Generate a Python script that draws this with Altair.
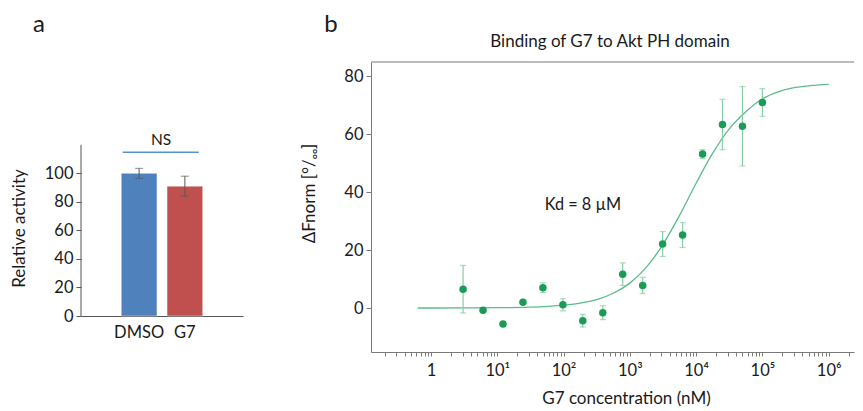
import altair as alt
import pandas as pd

# ---------------- data ----------------
groups = ["DMSO", "G7"]
activity = [100, 91]
activity_err = [3.5, 7.0]
bar_colors = ["#4f81bd", "#c0504d"]

conc = [3.05, 6.1, 12.2, 24.4, 48.8, 97.7, 195, 391, 781, 1563, 3125, 6250, 12500, 25000, 50000, 100000]
fnorm = [6.5, -0.8, -5.5, 2.0, 7.0, 1.1, -4.4, -1.6, 11.7, 7.8, 22.1, 25.2, 53.2, 63.4, 62.8, 71.0]
fnorm_err = [8.2, 0.5, 0.5, 0.6, 1.7, 2.1, 2.2, 2.4, 3.9, 2.8, 4.3, 4.3, 1.5, 8.7, 13.7, 4.8]

fit_conc = [0.63, 1, 3.16, 10, 31.6, 100, 178, 316, 562, 1000, 1778, 3162, 5623, 10000,
            17783, 31623, 56234, 100000, 177828, 316228, 562341, 1000000]
fit_fnorm = [0.0, 0.0, 0.03, 0.1, 0.3, 1.0, 1.7, 2.9, 5.1, 8.6, 14.1, 22.0, 32.0, 43.1,
             53.5, 61.9, 67.8, 72.3, 74.8, 76.2, 76.9, 77.3]

decade_ticks = [1, 10, 100, 1000, 10000, 100000, 1000000]
decade_labels = ["1", "10¹", "10²", "10³", "10⁴", "10⁵", "10⁶"]

FONT = "Lato"
TXT = "#1a1a1a"
AX = "#7a7a7a"
LBL = 16.5
TTL = 17

# ---------------- panel a ----------------
a_scale = alt.Scale(domain=[-25.2, 178.0], nice=False, zero=False)
xa = alt.X("group:N", sort=groups,
           scale=alt.Scale(domain=groups, paddingInner=0.22, paddingOuter=0.88),
           axis=alt.Axis(title=None, ticks=False, labelPadding=8, offset=-36, labelAngle=0,
                         domainColor="#555555", labelFontSize=LBL, labelColor=TXT))
ya = alt.Y("v:Q", scale=a_scale,
           axis=alt.Axis(values=[0, 20, 40, 60, 80, 100], domain=False, tickSize=5,
                         tickColor="#555555", labelPadding=3, labelFontSize=LBL, labelColor=TXT,
                         title="Relative activity", titleFontSize=TTL, titleFontWeight="normal",
                         titleColor=TXT, titleX=-62, titleY=166, titleAngle=270,
                         titleBaseline="middle", titleAlign="center"))

df_a = pd.DataFrame({
    "group": groups,
    "v": activity,
    "lo": [a - e for a, e in zip(activity, activity_err)],
    "hi": [a + e for a, e in zip(activity, activity_err)],
})

bars = alt.Chart(df_a).mark_bar(stroke="white", strokeOpacity=0.45, strokeWidth=1).encode(
    x=xa, y=ya, y2=alt.datum(0),
    color=alt.Color("group:N", scale=alt.Scale(domain=groups, range=bar_colors), legend=None))

a_axis_line = alt.Chart(pd.DataFrame({"v": [0], "hi": [120]})).mark_rule(color="#555555").encode(
    x=alt.value(0), y=ya, y2="hi:Q")

a_err = alt.Chart(df_a).mark_rule(color="#595959", strokeWidth=1).encode(x=xa, y=alt.Y("lo:Q", scale=a_scale), y2="hi:Q")
a_caps_lo = alt.Chart(df_a).mark_tick(color="#595959", size=8, thickness=1, orient="horizontal").encode(
    x=xa, y=alt.Y("lo:Q", scale=a_scale))
a_caps_hi = alt.Chart(df_a).mark_tick(color="#595959", size=8, thickness=1, orient="horizontal").encode(
    x=xa, y=alt.Y("hi:Q", scale=a_scale))

ns_df = pd.DataFrame({"s": ["DMSO"], "e": ["G7"], "v": [114.7]})
ns_line = alt.Chart(ns_df).mark_rule(color="#4f94d9", strokeWidth=1.5).encode(
    x=alt.X("s:N", sort=groups, bandPosition=0.04,
            scale=alt.Scale(domain=groups, paddingInner=0.22, paddingOuter=0.88)),
    x2=alt.X2("e", bandPosition=0.89),
    y=ya)

ns_text = alt.Chart(pd.DataFrame({"v": [123.5], "t": ["NS"]})).mark_text(
    fontSize=15.5, color=TXT, baseline="middle", align="center").encode(
    x=alt.value(80), y=ya, text="t:N")

a_label = alt.Chart(pd.DataFrame({"t": ["a"]})).mark_text(
    fontSize=24, color=TXT, baseline="middle", align="center").encode(
    x=alt.value(-42), y=alt.value(-37), text="t:N")

panel_a = alt.layer(bars, a_axis_line, a_err, a_caps_lo, a_caps_hi, ns_line, ns_text, a_label).properties(
    width=162, height=290)

# ---------------- panel b ----------------
minor_ticks = [m * 10.0 ** k for k in range(-1, 7) for m in range(1, 10)
               if 0.1244 <= m * 10.0 ** k <= 2.41e6]
label_expr = " : ".join(
    f"datum.value == {v} ? '{l}'" for v, l in zip(decade_ticks, decade_labels)) + " : ''"

xb_scale = alt.Scale(type="log", domain=[0.1244, 2.41e6], nice=False)
yb_scale = alt.Scale(domain=[-15.2, 85.0], nice=False, zero=False)

xb = alt.X("c:Q", scale=xb_scale,
           axis=alt.Axis(values=minor_ticks, labelExpr=label_expr, tickSize=4, tickColor=AX,
                         domainColor=AX, labelPadding=6, labelFontSize=LBL, labelColor=TXT,
                         labelFlush=False, labelOverlap=False,
                         title="G7 concentration (nM)", titleFontSize=TTL, titleFontWeight="normal",
                         titleColor=TXT, titleX=255, titleY=46, titleBaseline="middle",
                         titleAlign="center"))
yb = alt.Y("v:Q", scale=yb_scale,
           axis=alt.Axis(values=[0, 20, 40, 60, 80], tickSize=5, tickColor=AX, domainColor=AX,
                         labelPadding=3, labelFontSize=LBL, labelColor=TXT,
                         title="ΔFnorm [°/ₒₒ]", titleFontSize=TTL, titleFontWeight="normal",
                         titleColor=TXT, titleX=-62, titleY=131, titleAngle=270,
                         titleBaseline="middle", titleAlign="center"))

df_b = pd.DataFrame({
    "c": conc,
    "v": fnorm,
    "lo": [f - e for f, e in zip(fnorm, fnorm_err)],
    "hi": [f + e for f, e in zip(fnorm, fnorm_err)],
})
df_fit = pd.DataFrame({"c": fit_conc, "v": fit_fnorm})

GREEN = "#1b9b56"
LIGHT = "#86cfa6"
CURVE = "#5cbb8b"

curve = alt.Chart(df_fit).mark_line(color=CURVE, strokeWidth=1.3, interpolate="monotone").encode(x=xb, y=yb)
b_err = alt.Chart(df_b).mark_rule(color=LIGHT, strokeWidth=1.2).encode(
    x=xb, y=alt.Y("lo:Q", scale=yb_scale), y2="hi:Q")
b_caps_lo = alt.Chart(df_b).mark_tick(color=LIGHT, size=6, thickness=1.2, orient="horizontal").encode(
    x=xb, y=alt.Y("lo:Q", scale=yb_scale))
b_caps_hi = alt.Chart(df_b).mark_tick(color=LIGHT, size=6, thickness=1.2, orient="horizontal").encode(
    x=xb, y=alt.Y("hi:Q", scale=yb_scale))
points = alt.Chart(df_b).mark_circle(color=GREEN, size=56, opacity=1).encode(x=xb, y=yb)

top_line = alt.Chart(pd.DataFrame({"v": [85.0]})).mark_rule(color=AX, strokeWidth=1).encode(y=yb)

kd_text = alt.Chart(pd.DataFrame({"c": [196], "v": [35.5], "t": ["Kd = 8 µM"]})).mark_text(
    fontSize=16.3, color=TXT, baseline="middle", align="center").encode(x=xb, y=yb, text="t:N")

b_label = alt.Chart(pd.DataFrame({"t": ["b"]})).mark_text(
    fontSize=24, color=TXT, baseline="middle", align="center").encode(
    x=alt.value(-40), y=alt.value(-37), text="t:N")

b_title = alt.Chart(pd.DataFrame({"t": ["Binding of G7 to Akt PH domain"]})).mark_text(
    fontSize=17, color=TXT, baseline="middle", align="center").encode(
    x=alt.value(239), y=alt.value(-20), text="t:N")

panel_b = alt.layer(top_line, curve, b_err, b_caps_lo, b_caps_hi, points, kd_text, b_label, b_title).properties(
    width=483, height=290)

chart = (
    alt.hconcat(panel_a, panel_b, spacing=128, bounds="flush")
    .properties(padding={"left": 2, "top": 5, "right": 0, "bottom": 0})
    .configure(font=FONT)
    .configure_view(strokeWidth=0, stroke="transparent")
    .configure_axis(grid=False)
)

chart.save("out.html", embed_options={"renderer": "svg", "actions": False})
